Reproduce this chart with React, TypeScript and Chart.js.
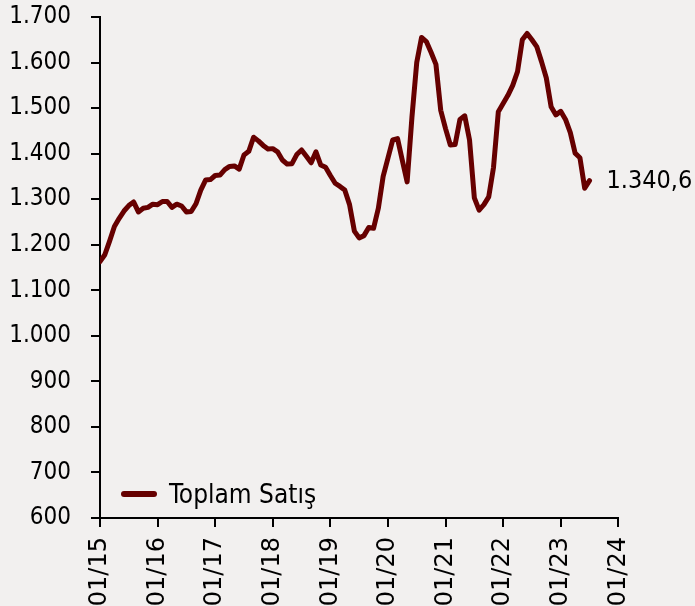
import React, { useEffect, useRef } from "react";
import { Chart, registerables } from "chart.js";

Chart.register(...registerables);

// Monthly "Toplam Satış" values, Jan 2015 – Jul 2023
const y2015 = [1163, 1178, 1208, 1240, 1258, 1274, 1286, 1294, 1272, 1280, 1282, 1289];
const y2016 = [1288, 1295, 1295, 1282, 1289, 1285, 1272, 1273, 1290, 1320, 1342, 1343];
const y2017 = [1352, 1353, 1365, 1372, 1373, 1366, 1397, 1405, 1436, 1428, 1418, 1410];
const y2018 = [1411, 1404, 1386, 1377, 1378, 1398, 1408, 1394, 1380, 1404, 1375, 1370];
const y2019 = [1352, 1335, 1328, 1320, 1288, 1230, 1215, 1220, 1238, 1236, 1280, 1350];
const y2020 = [1390, 1430, 1433, 1385, 1338, 1480, 1600, 1655, 1646, 1622, 1596, 1495];
const y2021 = [1455, 1419, 1420, 1475, 1483, 1430, 1303, 1276, 1288, 1305, 1370, 1492];
const y2022 = [1510, 1528, 1550, 1580, 1650, 1664, 1650, 1635, 1602, 1566, 1503, 1485];
const y2023 = [1493, 1475, 1446, 1401, 1391, 1324, 1340.6];

const seriesValues = [...y2015, ...y2016, ...y2017, ...y2018, ...y2019, ...y2020, ...y2021, ...y2022, ...y2023];
const seriesName = "Toplam Satış";
const xTickLabels = ["01/15", "01/16", "01/17", "01/18", "01/19", "01/20", "01/21", "01/22", "01/23", "01/24"];
const yMin = 600;
const yMax = 1700;
const yStep = 100;
const lastLabel = "1.340,6";

const LINE_COLOR = "#660000";
const BG = "#F2F0EF";
const FONT_C = "'DejaVu Sans Condensed', 'DejaVu Sans', sans-serif";
const FONT_R = "'DejaVu Sans', sans-serif";

const fmt = (v: number) => String(v).replace(/\B(?=(\d{3})+(?!\d))/g, ".");

export default function App() {
  const ref = useRef<HTMLCanvasElement | null>(null);

  useEffect(() => {
    const canvas = ref.current;
    if (!canvas) return;

    const overlay = {
      id: "overlay",
      afterDatasetsDraw(chart: any) {
        const { ctx, chartArea, scales } = chart;
        const n = seriesValues.length - 1;
        const px = scales.x.getPixelForValue(n);
        const py = scales.y.getPixelForValue(seriesValues[n]);
        ctx.save();
        ctx.fillStyle = "#000";
        ctx.font = `25px ${FONT_C}`;
        ctx.textAlign = "left";
        ctx.textBaseline = "middle";
        ctx.fillText(lastLabel, px + 17, py + 1);
        const ly = chartArea.bottom - 24;
        ctx.strokeStyle = LINE_COLOR;
        ctx.lineWidth = 6;
        ctx.lineCap = "round";
        ctx.beginPath();
        ctx.moveTo(chartArea.left + 24, ly);
        ctx.lineTo(chartArea.left + 54, ly);
        ctx.stroke();
        ctx.font = `26px ${FONT_C}`;
        ctx.textBaseline = "alphabetic";
        ctx.fillText(seriesName, chartArea.left + 69, chartArea.bottom - 15.5);
        ctx.restore();
      },
    };

    const chart = new Chart(canvas, {
      type: "line",
      data: {
        datasets: [
          {
            label: seriesName,
            data: seriesValues.map((v, i) => ({ x: i, y: v })),
            borderColor: LINE_COLOR,
            backgroundColor: LINE_COLOR,
            borderWidth: 5,
            borderJoinStyle: "round",
            borderCapStyle: "round",
            pointRadius: 0,
            tension: 0,
            fill: false,
          },
        ],
      },
      options: {
        animation: false,
        responsive: false,
        devicePixelRatio: 1,
        layout: { padding: { top: 17, right: 76.7, left: 0, bottom: 0 } },
        plugins: { legend: { display: false }, tooltip: { enabled: false } },
        scales: {
          x: {
            type: "linear",
            min: 0,
            max: (xTickLabels.length - 1) * 12,
            afterFit: (s: any) => {
              s.height = 88;
              s.paddingLeft = 0;
              s.paddingRight = 0;
            },
            ticks: {
              stepSize: 12,
              autoSkip: false,
              maxRotation: 90,
              minRotation: 90,
              padding: 10,
              color: "#000",
              font: { family: FONT_R, size: 24 },
              callback: (v: any) => {
                const k = Math.round(Number(v) / 12);
                return Number(v) % 12 === 0 ? xTickLabels[k] : "";
              },
            },
            grid: {
              display: true,
              drawOnChartArea: false,
              drawTicks: true,
              tickLength: 9,
              color: "#000",
              lineWidth: 2,
            },
            border: { display: true, color: "#000", width: 2 },
          },
          y: {
            min: yMin,
            max: yMax,
            afterFit: (s: any) => {
              s.width = 100;
              s.paddingTop = 0;
              s.paddingBottom = 0;
            },
            ticks: {
              stepSize: yStep,
              padding: 20,
              color: "#000",
              font: { family: FONT_C, size: 24 },
              callback: (v: any) => fmt(Number(v)),
            },
            grid: {
              display: true,
              drawOnChartArea: false,
              drawTicks: true,
              tickLength: 9,
              color: "#000",
              lineWidth: 2,
            },
            border: { display: true, color: "#000", width: 2 },
          },
        },
      },
      plugins: [overlay],
    } as any);

    return () => chart.destroy();
  }, []);

  return (
    <div style={{ position: "fixed", left: 0, top: 0, width: 695, height: 606, background: BG }}>
      <canvas ref={ref} width={695} height={606} style={{ width: 695, height: 606, display: "block" }} />
    </div>
  );
}
